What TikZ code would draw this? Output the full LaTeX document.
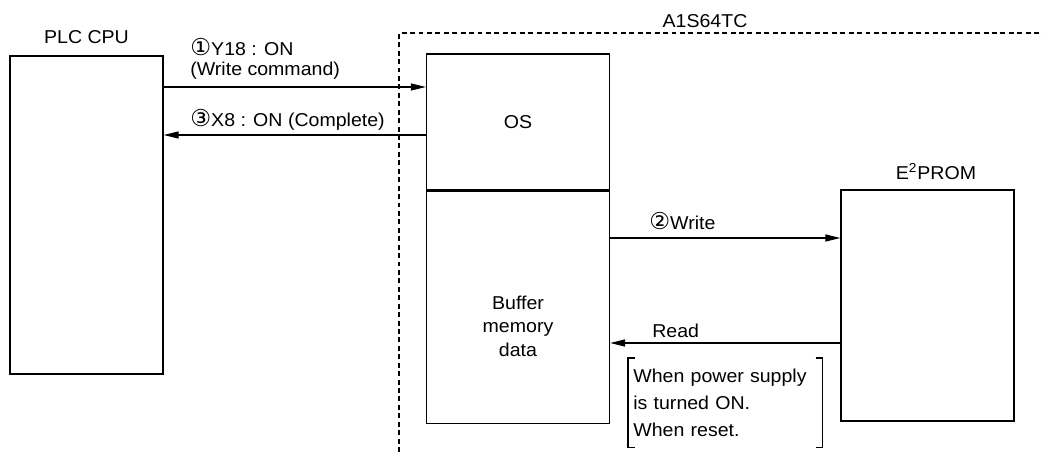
\documentclass[tikz,border=0pt]{standalone}
\usepackage{fontspec}
\setmainfont{Liberation Sans}[FakeStretch=1.05]
\newfontfamily\circfont{DejaVu Sans}[Scale=1.25]
\usetikzlibrary{positioning,arrows.meta}
\newcommand{\cnum}[1]{{\circfont #1}}

\begin{document}
\begin{tikzpicture}[x=0.02cm,y=-0.02cm,font=\fontsize{10.6}{11.4}\selectfont,
            block/.style={draw,line width=0.75pt,inner sep=0pt},
            lbl/.style={inner sep=0pt},
            sig/.style={line width=0.6pt,-{Triangle[length=8.5pt,width=4pt]}}]
            \useasboundingbox (0,0) rectangle (1043,452);
            \node[block,minimum width=3.06cm,minimum height=6.36cm] (plc) at (86.5,215) {};
            \node[block,minimum width=3.66cm,minimum height=2.72cm] (os) at (518,122) {OS};
            \node[block,minimum width=3.66cm,minimum height=4.64cm,below=0pt of os] (buf) {};
            \node[block,minimum width=3.46cm,minimum height=4.62cm] (eeprom) at (927.5,305.5) {};
            \node[lbl,align=center,font=\fontsize{10.6}{13.4}\selectfont] (buftxt) at (518,326) {Buffer\\memory\\data};
            \node[lbl,above=0.22cm of plc] (plclbl) {PLC CPU};
            \node[lbl,above=0.18cm of eeprom,xshift=4.8pt] (eeplbl) {E\textsuperscript{2}PROM};
            \node[lbl,anchor=base] (modlbl) at (705,28) {A1S64TC};
            \draw[line width=0.6pt,dash pattern=on 2.8pt off 2pt] (399,452) -- (399,33) -- (1043,33);
            \coordinate (cmd) at (0,87);
            \coordinate (done) at (0,135);
            \coordinate (wr) at (0,238);
            \coordinate (rd) at (0,343);
            \draw[sig] (plc.east |- cmd) -- (os.west |- cmd);
            \draw[sig] (os.west |- done) -- (plc.east |- done);
            \draw[sig] (buf.east |- wr) -- (eeprom.west |- wr);
            \draw[sig] (eeprom.west |- rd) -- (buf.east |- rd);
            \node[lbl,align=left,anchor=south west] (cmdlbl) at (190,80) {\cnum{①}Y18 : ON\\(Write command)};
            \node[lbl,anchor=base west] (donelbl) at (190,127) {\cnum{③}X8 : ON (Complete)};
            \node[lbl,anchor=base west] (wrlbl) at (649,230) {\cnum{②}Write};
            \node[lbl,anchor=base west] (rdlbl) at (652,337) {Read};
            \node[lbl,anchor=north west,text width=3.68cm,inner xsep=0.1cm,minimum height=1.78cm,align=left,font=\fontsize{10.6}{15.6}\selectfont] (note) at (628,358) {When power supply\\is turned ON.\\When reset.};
            \draw[line width=0.6pt] (note.north west) ++(7,0) -- ++(-7,0) -- (note.south west) -- ++(7,0);
            \draw[line width=0.6pt] (note.north east) ++(-7,0) -- ++(7,0) -- (note.south east) -- ++(-7,0);
        \end{tikzpicture}
\end{document}
